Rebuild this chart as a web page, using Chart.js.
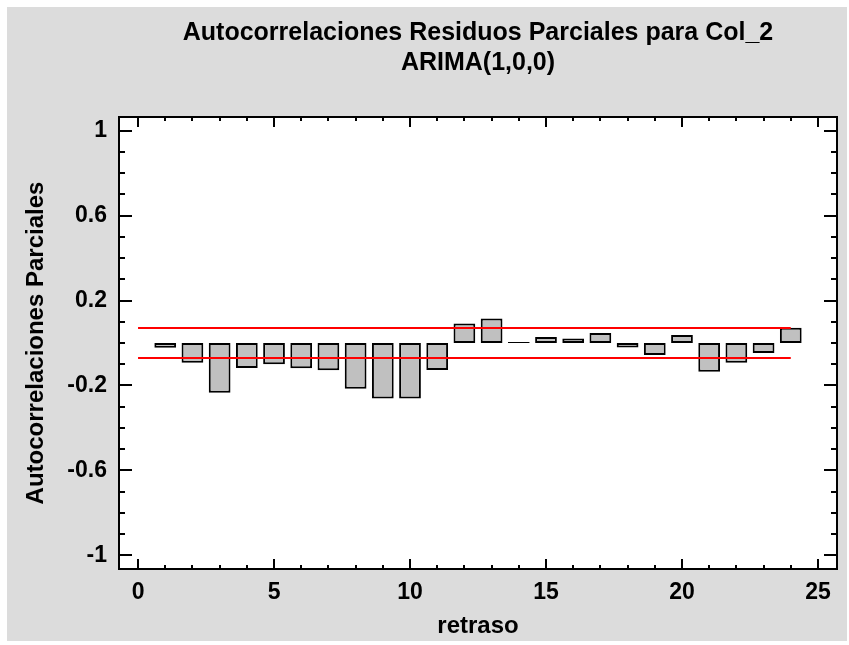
<!DOCTYPE html>
<html>
<head>
<meta charset="utf-8">
<script src="https://cdn.jsdelivr.net/npm/chart.js@4.4.1/dist/chart.umd.min.js"></script>
<style>
  html, body { margin: 0; padding: 0; background: #fff; }
</style>
</head>
<body>
<canvas id="chart-area" width="849" height="645"></canvas>
<script>
// chart text
var titleLines = ['Autocorrelaciones Residuos Parciales para Col_2', 'ARIMA(1,0,0)'];
var xTitle = 'retraso';
var yTitle = 'Autocorrelaciones Parciales';

// partial autocorrelations of the residuals, lag 1..24
var lags = [1, 2, 3, 4, 5, 6, 7, 8, 9, 10, 11, 12, 13, 14, 15, 16, 17, 18, 19, 20, 21, 22, 23, 24];
var pacf = [-0.022, -0.093, -0.235, -0.118, -0.100, -0.119, -0.129, -0.216, -0.262, -0.262, -0.127, 0.092,
            0.116, 0.005, 0.028, 0.021, 0.047, -0.021, -0.056, 0.038, -0.136, -0.093, -0.047, 0.072];

// probability limits
var limitLags = [0, 24];
var upperLimit = [0.071, 0.071];
var lowerLimit = [-0.071, -0.071];

// tick labels
var xTicks = [0, 5, 10, 15, 20, 25];
var yTicks = [-1, -0.6, -0.2, 0.2, 0.6, 1];

var fontFamily = '"Liberation Sans", Arial, sans-serif';

function pairs(xs, ys) {
	return xs.map(function (x, i) { return { x: x, y: ys[i] }; });
}

var framePlugin = {
	id: 'frame',
	beforeDraw: function (chart) {
		var ctx = chart.ctx, a = chart.chartArea;
		ctx.save();
		ctx.fillStyle = '#ffffff';
		ctx.fillRect(0, 0, chart.width, chart.height);
		ctx.fillStyle = '#dcdcdc';
		ctx.fillRect(7, 7, 840, 634);
		ctx.fillStyle = '#ffffff';
		ctx.fillRect(a.left, a.top, a.right - a.left, a.bottom - a.top);
		ctx.restore();
	},
	afterDraw: function (chart) {
		var ctx = chart.ctx, a = chart.chartArea;
		var xs = chart.scales.x, ys = chart.scales.y;
		ctx.save();
		ctx.strokeStyle = '#000';
		ctx.lineWidth = 2;
		ctx.strokeRect(a.left, a.top, a.right - a.left, a.bottom - a.top);

		ctx.beginPath();
		// x ticks (bottom and top, inward)
		for (var i = 0; i <= 25; i++) {
			var px = Math.round(xs.getPixelForValue(i));
			var len = (i % 5 === 0) ? 10 : 4;
			ctx.moveTo(px, a.bottom); ctx.lineTo(px, a.bottom - len);
			ctx.moveTo(px, a.top); ctx.lineTo(px, a.top + len);
		}
		// y ticks (left and right, inward)
		for (var j = -10; j <= 10; j++) {
			var py = Math.round(ys.getPixelForValue(j / 10));
			var major = yTicks.indexOf(j / 10) !== -1;
			var l2 = major ? 13 : 6;
			ctx.moveTo(a.left, py); ctx.lineTo(a.left + l2, py);
			ctx.moveTo(a.right, py); ctx.lineTo(a.right - l2, py);
		}
		ctx.stroke();

		// main title centred over the plot
		ctx.fillStyle = '#000';
		ctx.font = 'bold 25px ' + fontFamily;
		ctx.textAlign = 'center';
		ctx.textBaseline = 'middle';
		var cx = (a.left + a.right) / 2;
		ctx.fillText(titleLines[0], cx, 33);
		ctx.fillText(titleLines[1], cx, 63);
		ctx.restore();
	}
};

var config = {
	type: 'bar',
	data: {
		datasets: [{
			type: 'line',
			data: pairs(limitLags, upperLimit),
			borderColor: '#ff0000',
			borderWidth: 2,
			pointRadius: 0,
			fill: false,
			order: 0
		}, {
			type: 'line',
			data: pairs(limitLags, lowerLimit),
			borderColor: '#ff0000',
			borderWidth: 2,
			pointRadius: 0,
			fill: false,
			order: 0
		}, {
			type: 'bar',
			data: pairs(lags, pacf),
			backgroundColor: '#c0c0c0',
			borderColor: '#000000',
			borderWidth: 2,
			borderSkipped: false,
			categoryPercentage: 0.8,
			barPercentage: 1,
			order: 1
		}]
	},
	options: {
		responsive: false,
		animation: false,
		layout: { padding: { left: 22, right: 12, top: 117, bottom: 4 } },
		plugins: {
			legend: { display: false },
			tooltip: { enabled: false }
		},
		scales: {
			x: {
				type: 'linear',
				min: -0.7,
				max: 25.7,
				offset: false,
				grid: { display: false, drawTicks: false },
				border: { display: false },
				afterBuildTicks: function (s) { s.ticks = xTicks.map(function (v) { return { value: v }; }); },
				afterFit: function (s) { s.height = 72; },
				ticks: { padding: 10, color: '#000', maxRotation: 0, font: { family: fontFamily, size: 23, weight: 'bold' },
					callback: function (v) { return String(v); } },
				title: { display: true, text: xTitle, padding: 0, color: '#000', font: { family: fontFamily, size: 24, weight: 'bold' } }
			},
			y: {
				type: 'linear',
				min: -1.065,
				max: 1.065,
				grid: { display: false, drawTicks: false },
				border: { display: false },
				afterBuildTicks: function (s) { s.ticks = yTicks.map(function (v) { return { value: v }; }); },
				afterFit: function (s) { s.width = 97; },
				ticks: { padding: 12, color: '#000', font: { family: fontFamily, size: 23, weight: 'bold' },
					callback: function (v) { return String(v); } },
				title: { display: true, text: yTitle, padding: 0, color: '#000', font: { family: fontFamily, size: 24, weight: 'bold' } }
			}
		}
	},
	plugins: [framePlugin]
};

window.myChart = new Chart(document.getElementById('chart-area').getContext('2d'), config);
</script>
</body>
</html>
